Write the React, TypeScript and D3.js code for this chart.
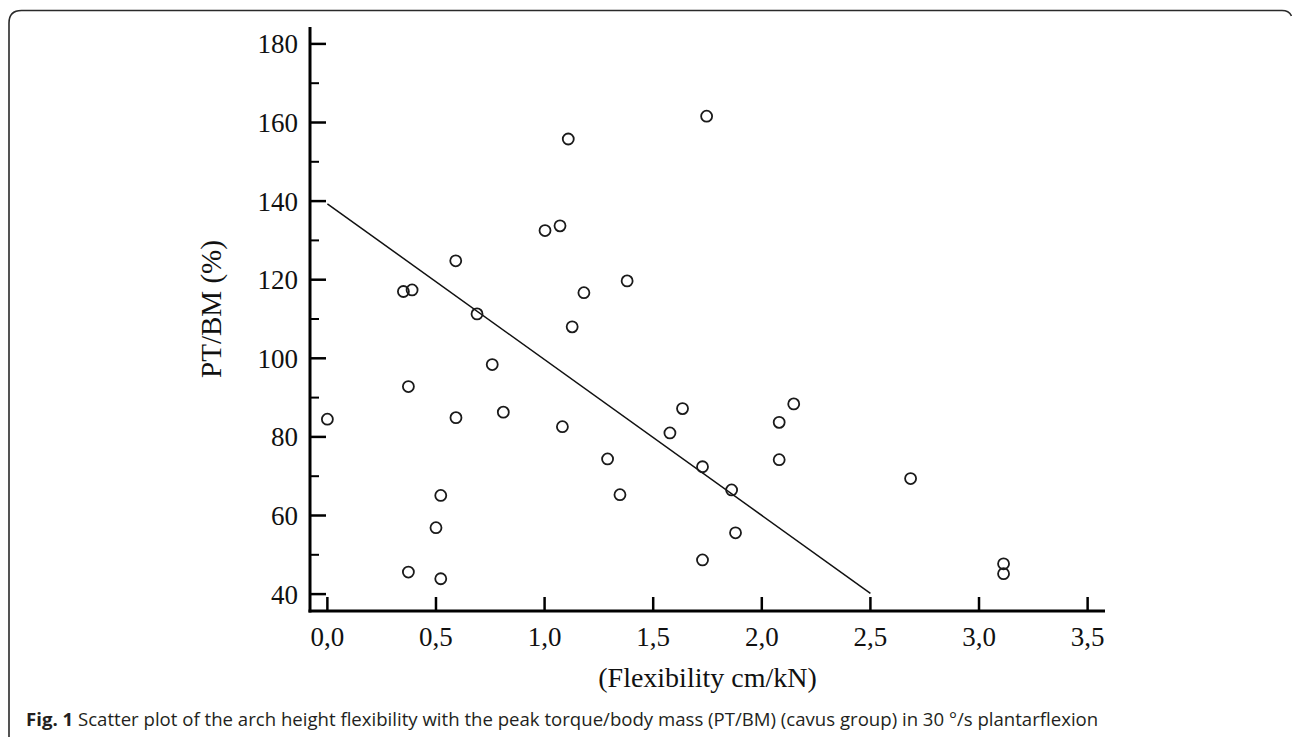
import * as d3 from "d3";

// flexibility (cm/kN) vs PT/BM (%), cavus group
const flexibility = [
  0.0, 0.35, 0.39, 0.373, 0.373, 0.591, 0.592, 0.522, 0.5, 0.522, 0.689, 0.759,
  0.81, 1.002, 1.071, 1.109, 1.127, 1.181, 1.082, 1.38, 1.29, 1.347, 1.577,
  1.635, 1.727, 1.746, 1.727, 1.861, 1.879, 2.08, 2.08, 2.147, 2.685, 3.113,
  3.113,
];
const ptbm = [
  84.5, 117.0, 117.4, 92.8, 45.6, 124.8, 84.9, 65.1, 56.9, 43.9, 111.3, 98.4,
  86.3, 132.5, 133.7, 155.8, 108.0, 116.7, 82.6, 119.7, 74.4, 65.3, 81.0, 87.2,
  72.4, 161.6, 48.7, 66.5, 55.6, 83.7, 74.2, 88.4, 69.4, 47.7, 45.2,
];

// fitted line end points
const fitX = [0, 2.5];
const fitY = [139.3, 40.2];

const xTicks = [0, 0.5, 1, 1.5, 2, 2.5, 3, 3.5];
const yMajor = [40, 60, 80, 100, 120, 140, 160, 180];
const yMinor = [50, 70, 90, 110, 130, 150, 170];
const xDomain = [-0.08, 3.58];
const yDomain = [35.7, 184.3];

const xTitle = "(Flexibility cm/kN)";
const yTitle = "PT/BM (%)";
const captionBold = "Fig. 1";
const captionText =
  " Scatter plot of the arch height flexibility with the peak torque/body mass (PT/BM) (cavus group) in 30 °/s plantarflexion";

const W = 1292;
const H = 737;
const margin = { left: 310, right: 187, top: 27, bottom: 126 };

const commaFmt = d3
  .formatLocale({ decimal: ",", thousands: ".", grouping: [3], currency: ["", ""] })
  .format(".1f");

const serif = "'Liberation Serif', 'Times New Roman', serif";

export default function App() {
  const x = d3.scaleLinear().domain(xDomain).range([margin.left, W - margin.right]);
  const y = d3.scaleLinear().domain(yDomain).range([H - margin.bottom, margin.top]);

  const x0 = x(xDomain[0]);
  const x1 = x(xDomain[1]);
  const yb = y(yDomain[0]);
  const yt = y(yDomain[1]);

  const points = flexibility.map((f, i) => ({ f, v: ptbm[i] }));
  const fitLine = d3
    .line<number>()
    .x((d) => x(d))
    .y((_, i) => y(fitY[i]));

  return (
    <svg
      width={W}
      height={H}
      style={{ position: "absolute", left: 0, top: 0, background: "#fff" }}
    >
      {/* frame */}
      <path
        d="M9,737 L9,23 Q9,10.5 21.5,10.5 L1282,10.5 Q1289,10.5 1291.5,16"
        fill="none"
        stroke="#2a2a2a"
        strokeWidth={1.6}
      />

      {/* y axis */}
      <line x1={x0} x2={x0} y1={yt} y2={yb + 1.5} stroke="#000" strokeWidth={3} />
      {yMajor.map((v) => (
        <g key={"ym" + v}>
          <line x1={x0} x2={x0 + 16} y1={y(v)} y2={y(v)} stroke="#000" strokeWidth={2.5} />
          <text
            x={x0 - 12}
            y={y(v)}
            dy="0.35em"
            textAnchor="end"
            fontFamily={serif}
            fontSize={27}
            fill="#111"
          >
            {v}
          </text>
        </g>
      ))}
      {yMinor.map((v) => (
        <line
          key={"yn" + v}
          x1={x0}
          x2={x0 + 9}
          y1={y(v)}
          y2={y(v)}
          stroke="#000"
          strokeWidth={2}
        />
      ))}

      {/* x axis */}
      <line x1={x0 - 1.5} x2={x1} y1={yb} y2={yb} stroke="#000" strokeWidth={3} />
      {xTicks.map((t) => (
        <g key={"xt" + t}>
          <line x1={x(t)} x2={x(t)} y1={yb} y2={yb - 14} stroke="#000" strokeWidth={2.5} />
          <text
            x={x(t)}
            y={646}
            textAnchor="middle"
            fontFamily={serif}
            fontSize={27}
            fill="#111"
          >
            {commaFmt(t)}
          </text>
        </g>
      ))}

      {/* titles */}
      <text
        x={(x0 + x1) / 2}
        y={687}
        textAnchor="middle"
        fontFamily={serif}
        fontSize={28}
        fill="#111"
      >
        {xTitle}
      </text>
      <text
        transform={`translate(221,${(yt + yb) / 2 - 10}) rotate(-90)`}
        textAnchor="middle"
        fontFamily={serif}
        fontSize={29}
        fill="#111"
      >
        {yTitle}
      </text>

      {/* fit line */}
      <path d={fitLine(fitX) || ""} fill="none" stroke="#111" strokeWidth={1.5} />

      {/* points */}
      {points.map((p, i) => (
        <circle
          key={i}
          cx={x(p.f)}
          cy={y(p.v)}
          r={5.5}
          fill="none"
          stroke="#1a1a1a"
          strokeWidth={1.8}
        />
      ))}

      {/* caption */}
      <text
        x={26}
        y={726}
        fontFamily="'Open Sans', 'Noto Sans', sans-serif"
        fontSize={18.6}
        fill="#231f20"
      >
        <tspan fontWeight="bold">{captionBold}</tspan>
        <tspan>{captionText}</tspan>
      </text>
    </svg>
  );
}
